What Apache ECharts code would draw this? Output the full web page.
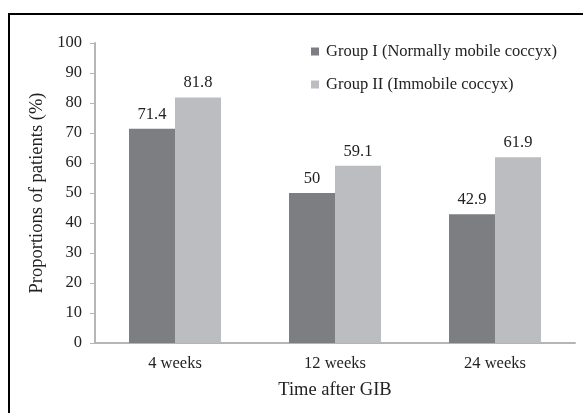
<!DOCTYPE html>
<html><head><meta charset="utf-8">
<script src="https://cdn.jsdelivr.net/npm/echarts@6/dist/echarts.min.js"></script>
<style>
html,body{margin:0;padding:0;background:#fff;}
#frame{position:absolute;left:8px;top:13px;width:590px;height:420px;border:2px solid #000;box-sizing:border-box;}
#c{position:absolute;left:0;top:0;width:583px;height:413px;}
</style></head>
<body>
<div id="frame"></div>
<div id="c"></div>
<script>
const categories = ['4 weeks', '12 weeks', '24 weeks'];
const group1 = [71.4, 50, 42.9];
const group2 = [81.8, 59.1, 61.9];
const seriesNames = ['Group I (Normally mobile coccyx)', 'Group II (Immobile coccyx)'];
const yTicks = {min: 0, max: 100, interval: 10};

const font = "'Liberation Serif','Times New Roman',serif";
const chart = echarts.init(document.getElementById('c'), null, {renderer: 'canvas'});
const lbl = {show: true, position: 'top', distance: 6, color: '#222', fontFamily: font, fontSize: 16.5};
chart.setOption({
  animation: false,
  textStyle: {fontFamily: font},
  grid: {left: 95, right: 8, top: 43, bottom: 70},
  legend: {
    orient: 'vertical', left: 306, top: 38, itemGap: 16,
    itemWidth: 8, itemHeight: 8, icon: 'rect',
    textStyle: {fontFamily: font, fontSize: 16.5, color: '#222', padding: [0, 0, 0, 2]},
    data: seriesNames
  },
  xAxis: {
    type: 'category', data: categories,
    axisLine: {lineStyle: {color: '#b5b5b8', width: 2}},
    axisTick: {show: false},
    axisLabel: {fontFamily: font, fontSize: 16.5, color: '#222', margin: 12},
    name: 'Time after GIB', nameLocation: 'middle', nameGap: 38,
    nameTextStyle: {fontFamily: font, fontSize: 18.5, color: '#222'}
  },
  yAxis: {
    type: 'value', min: yTicks.min, max: yTicks.max, interval: yTicks.interval,
    axisLine: {show: true, lineStyle: {color: '#b5b5b8', width: 2}},
    axisTick: {show: true, length: 5, lineStyle: {color: '#b5b5b8'}},
    splitLine: {show: false},
    axisLabel: {fontFamily: font, fontSize: 16.5, color: '#222', margin: 13},
    name: 'Proportions of patients (%)', nameLocation: 'middle', nameGap: 44,
    nameTextStyle: {fontFamily: font, fontSize: 18.5, color: '#222'}
  },
  series: [
    {name: seriesNames[0], type: 'bar', data: group1, barWidth: 46, barGap: '0%',
     itemStyle: {color: '#7d7e82'}, label: lbl},
    {name: seriesNames[1], type: 'bar', data: group2, barWidth: 46,
     itemStyle: {color: '#bcbdc0'}, label: lbl}
  ]
});
</script>
</body></html>
